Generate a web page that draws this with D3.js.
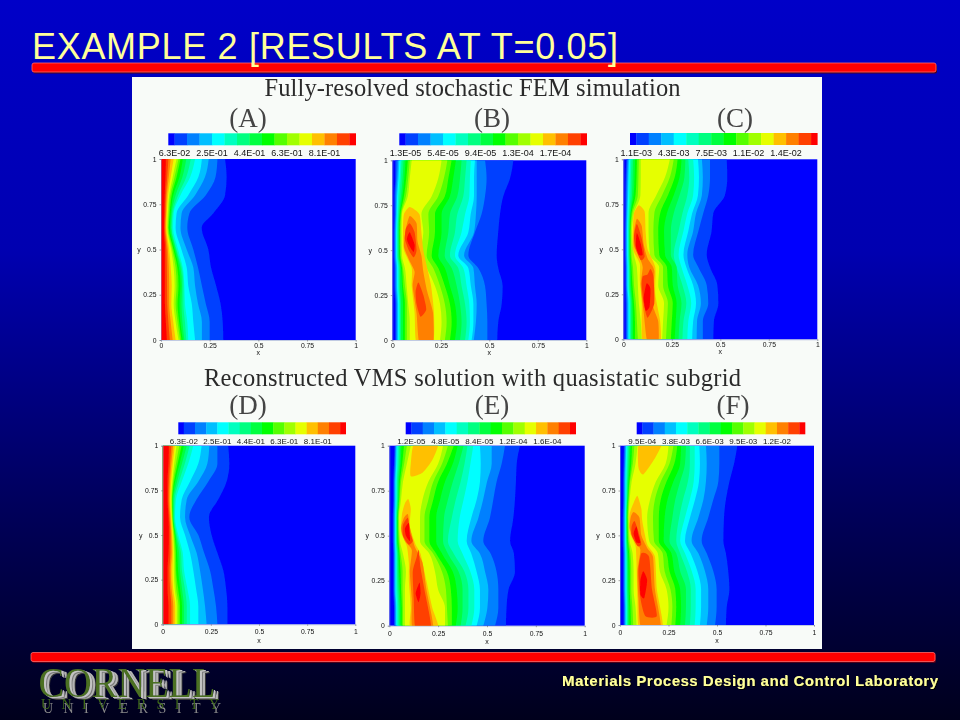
<!DOCTYPE html>
<html><head><meta charset="utf-8">
<script src="https://cdn.jsdelivr.net/npm/d3@7/dist/d3.min.js"></script>
<style>html,body{margin:0;padding:0;background:#00001e}svg{display:block}</style></head>
<body><svg id="c" width="960" height="720"></svg>
<script>
// ---------- values (x positions in hundredths of the x range) ----------
const titleText = "EXAMPLE 2 [RESULTS AT T=0.05]";
const headingTop = "Fully-resolved stochastic FEM simulation";
const headingBottom = "Reconstructed VMS solution with quasistatic subgrid";
const footerText = "Materials Process Design and Control Laboratory";
const axisTicks = [0, 0.25, 0.5, 0.75, 1];
const levelColors = ["#0000ff","#0040ff","#0080ff","#00bfff","#00ffff","#00ffbf","#00ff80","#00ff40","#00ff00","#55ff00","#a0ff00","#e6ff00","#ffc000","#ff8000","#ff4000","#ff0000"];
const barIndexTicks = [0.5, 3.5, 6.5, 9.5, 12.5];
const barA = ["6.3E-02","2.5E-01","4.4E-01","6.3E-01","8.1E-01"];
const barB = ["1.3E-05","5.4E-05","9.4E-05","1.3E-04","1.7E-04"];
const barC = ["1.1E-03","4.3E-03","7.5E-03","1.1E-02","1.4E-02"];
const barD = ["6.3E-02","2.5E-01","4.4E-01","6.3E-01","8.1E-01"];
const barE = ["1.2E-05","4.8E-05","8.4E-05","1.2E-04","1.6E-04"];
const barF = ["9.5E-04","3.8E-03","6.6E-03","9.5E-03","1.2E-02"];

const rowsA = [0,.1,.2,.3,.4,.5,.62,.7,.8,.9,1];
const rightA = [
[32,31.7,30.6,28.3,25.7,24.3,20.9,26.9,32.9,33.7,32.9],
[25,25,23,21,19,16.6,13.5,14.6,23,28,29],
[21,21,19,17.5,16.6,13.2,10,10.6,17.5,22.6,24.5],
[17.5,16.6,15.8,14,13.2,10.5,7.5,8,14,19.2,21],
[14,13.5,12.3,12,11.2,8.8,6.2,6.5,10,15,17.5],
[13,12.3,11.5,11.5,10.6,8,5.5,6,8.8,13,15.3],
[12,11,10.5,10.8,10,7.6,5.2,5.5,7.5,11,13],
[11.2,10,9.5,10,9.2,7,4.6,5,6.3,9.5,11.2],
[10.5,9.3,8.5,9,8.4,6.4,4,4.5,5.5,8,10],
[9.8,8.5,7.5,8,7.5,5.8,3.6,4,4.8,7,9],
[9,7.5,6.5,7,6.5,5.2,3.2,3.5,4.2,6,8],
[7.5,6.3,5.3,5.5,5,4.2,2.8,3,3.6,5,6.5],
[6,5,4.2,4.2,4,3.5,2.4,2.6,3,4,5],
[4.5,3.8,3.2,3.1,3,2.8,2,2.2,2.5,3.2,3.8],
[3,2.5,2,2,2,2,1.5,1.7,1.9,2.3,2.5]];

const rowsD = [0,.1,.2,.3,.4,.5,.6,.7,.8,.9,1];
const rightD = [
[33.6,33.6,32.9,31.5,28.4,25.4,24,28.9,33.2,34.6,34],
[28.4,27.7,26.3,24.6,21.5,18.5,13.8,17.6,23.7,28.4,28.4],
[22.8,22,20.8,19.4,17.6,14.2,11.6,12.5,18.5,23.2,24.2],
[18.5,18.5,17.3,15.9,14.2,11.6,9,9.9,14.2,18.5,20.2],
[14.2,14.2,12.8,11.1,10.4,8.1,6.4,6.9,9.9,13.3,15.9],
[12.5,12.5,11.5,10,9.5,7.4,6,6.2,8.5,11.5,14],
[11,11,10,9,8.5,6.9,5.6,5.6,7.5,10,12.5],
[10,10,9,8,7.5,6.5,5.3,5.2,6.5,8.8,11],
[9,9,8,7,6.9,6.2,5.1,5,5.9,7.8,9.8],
[8.2,8.2,7,6.5,6.3,5.8,5,4.8,5.4,6.9,8.6],
[7.3,7.3,6.2,5.8,5.8,5.4,4.7,4.4,5,6,7.2],
[6.5,6.5,5.4,5,5.3,5,4.4,4,4.4,5.2,6.3],
[5.5,5.5,4.6,4.2,4.7,4.5,4,3.5,3.8,4.5,5.4],
[4.5,4.5,3.8,3.5,4,4,3.5,3,3.2,3.8,4.5],
[3,3,2.5,2.5,3,3.2,3,2.5,2.5,3,3.2]];

const rowsB = [0,.1,.2,.3,.4,.47,.6,.7,.8,.9,1];
const rightB = [
[54.1,54.6,56.4,56.9,54.6,53.8,54.6,55.5,57.2,60.7,62.4],
[49,49,48.6,47.8,44.3,39.2,42.6,46,47.8,48.6,47.8],
[42,43.1,43.5,42.6,41.8,37,42.1,43.1,43.5,43.5,43.5],
[40.9,41.8,41.8,40.5,39.2,34,39.2,40.4,42.1,42.1,42.6],
[39.2,40,39.7,38.3,36.6,32.3,35.7,37.5,39.7,40,40.5],
[37.5,38.3,37.5,35.7,34,29.7,32.3,33.5,36.6,37.5,38.3],
[34.9,35.7,34.9,33.2,30.6,27,28.9,29.7,33.5,34.9,35.7],
[32.3,33.2,32.3,29.7,27.1,23.7,25.4,25.4,29.7,31.4,32.8],
[29.7,30.6,29.7,27.1,23.7,20.3,22,22,27.1,28.9,30.6],
[27.1,28,27.1,24.6,21.1,17.7,19,18.6,23.7,26.6,28.4],
[24.6,25.4,24.6,22,17.7,14.3,16,15,20.3,23.7,25.4]];
const leftB = [
[1.5,1.5,1.5,1,1,.8,.8,1,1,1.5,1.5],
[2,2,2,1.5,1.5,1.2,1.2,1.5,1.5,2,2.2],
[2.5,2.5,2.5,2,2,1.6,1.6,1.9,2,2.6,3],
[3,3,3,2.5,2.5,2,2,2.3,2.5,3.2,3.6],
[3.5,3.5,3.5,3,3,2.4,2.4,2.7,3,3.8,4.2],
[4,4,4,3.5,3.5,2.8,2.8,3.1,3.7,4.4,4.8],
[4.5,4.5,4.5,4,4,3.2,3.2,3.5,4.5,5.3,5.8],
[5.5,5.5,5.5,5,4.5,3.6,3.5,3.9,5.2,6.2,6.8],
[6.5,6.5,6.5,5.5,5,4,3.8,4.2,6,7.2,8],
[7.5,7.5,7.5,6.5,5.5,4.4,4.2,4.6,7,8.2,9],
[9,9,8.2,7.4,6.5,5,4.8,5,8,9,10]];
const hotB = [
{level:12,pts:[[.09,.74],[.14,.70],[.15,.60],[.16,.5],[.18,.4],[.20,.3],[.215,.15],[.21,-.02],[.125,-.02],[.115,.15],[.10,.3],[.10,.4],[.06,.5],[.055,.62],[.06,.7]]},
{level:13,pts:[[.09,.69],[.125,.65],[.13,.55],[.15,.47],[.16,.38],[.18,.27],[.21,.15],[.21,-.02],[.14,-.02],[.125,.15],[.105,.3],[.115,.38],[.085,.45],[.06,.52],[.07,.62]]},
{level:14,pts:[[.09,.65],[.115,.6],[.125,.5],[.11,.46],[.085,.5],[.065,.56],[.07,.62]]},
{level:14,pts:[[.135,.32],[.16,.25],[.175,.17],[.145,.13],[.125,.2],[.12,.27]]},
{level:15,pts:[[.09,.6],[.115,.53],[.11,.49],[.09,.52],[.075,.56]]}];

const rowsC = [0,.1,.2,.3,.4,.47,.6,.7,.8,.9,1];
const rightC = [
[46.4,46.7,49,48.5,44.7,43,45.5,46.4,52.4,53.6,53.3],
[41,41,43.8,43,38.7,36,38.7,41.2,43.8,44.7,44.7],
[37.8,38,40,38.5,34,33,36,37.5,40.5,41,40.5],
[35.5,36,37.5,36,32.5,31,33.5,35.5,38.5,39,38.5],
[33,33.5,35,33,30,28.5,31,33,36,36.5,36],
[30.5,31,32.5,30.5,27.5,26,28.5,30.5,33,34,33.5],
[28.5,29,30,28,27.5,24.5,24.5,26,29,31.5,32],
[26.5,27,27.5,25.5,25,21.5,21,22.5,26,29,30],
[24.5,25,25.5,23,22.5,18.5,18,19,23,26.5,28],
[22,22.5,23,20.5,20.5,16,15.5,16,20,24,26],
[20,20.5,21,18,18.5,13.7,13,13,17,21.5,24]];
const leftC = [
[1.2,1.2,1.2,1,1,.9,.9,1,1,1.2,1.5],
[1.7,1.7,1.7,1.4,1.4,1.2,1.2,1.4,1.5,1.7,2],
[2.2,2.2,2.2,1.8,1.8,1.6,1.6,1.8,2,2.2,2.5],
[2.7,2.7,2.7,2.2,2.2,2,2,2.2,2.5,2.7,3],
[3.2,3.2,3.2,2.6,2.6,2.4,2.4,2.6,3,3.2,3.5],
[3.7,3.7,3.7,3,3,2.8,2.8,3,3.7,3.9,4.2],
[4.2,4.2,4.2,3.5,3.4,3.1,3.1,3.5,4.5,4.8,5],
[5,5,4.8,4,3.8,3.4,3.4,3.8,5.3,5.8,6],
[6,6,5.5,4.7,4.2,3.7,3.6,4.2,6.3,6.8,7],
[7.5,7,6.5,5.5,5,4.2,3.9,4.7,7.5,7.8,8],
[9.5,9,8,7.5,7,5.5,4.5,5.5,8.8,9,9]];
const hotC = [
{level:12,pts:[[.08,.745],[.11,.71],[.115,.6],[.125,.5],[.165,.40],[.165,.25],[.19,.1],[.19,-.02],[.10,-.02],[.095,.2],[.085,.33],[.085,.42],[.05,.5],[.05,.62],[.055,.7]]},
{level:13,pts:[[.07,.67],[.095,.63],[.105,.53],[.125,.45],[.16,.38],[.15,.2],[.18,.1],[.18,-.02],[.125,-.02],[.105,.15],[.09,.3],[.1,.4],[.085,.45],[.055,.52],[.055,.6]]},
{level:14,pts:[[.07,.64],[.095,.56],[.11,.46],[.09,.44],[.065,.5],[.055,.57]]},
{level:14,pts:[[.14,.39],[.155,.35],[.16,.2],[.125,.12],[.105,.2],[.095,.3],[.1,.35],[.125,.36]]},
{level:15,pts:[[.07,.59],[.09,.53],[.1,.47],[.08,.47],[.065,.52]]},
{level:15,pts:[[.12,.31],[.14,.28],[.135,.18],[.115,.16],[.105,.23]]}];

const rowsE = [0,.1,.2,.3,.4,.47,.6,.7,.8,.9,1];
const rightE = [
[59.7,60,61,64.3,63.8,61.8,63.5,64.3,64.8,65.2,66.9],
[54.1,55.8,55.8,54.9,51.9,48.1,51.5,53.2,54.9,57.5,59.2],
[48.1,50.2,50.7,49,46.4,42,45.6,48,50,52.4,52.4],
[44.7,46.4,46.4,44.7,42,39.6,42,44.7,46.4,46.8,46.4],
[42,43.5,43.5,41.5,37.5,35,36,38,40,41.5,43],
[39,40.5,40.5,38.5,33,30,32,34,36.5,38.5,40],
[36.5,37.5,37.5,35.5,30,27.5,28,30,32.5,35.5,38],
[34,35,34.5,32.5,27,24,24,26,28.5,32.5,35],
[32,32,31.5,29.5,24,20.5,20.5,22.5,25,29.5,33],
[30,29.5,29,27,22.5,18,18,20,22.5,27,30],
[28.5,28.5,25,23.4,20.5,15.7,15.7,17,20,25,27.5]];
const leftE = [
[2.4,2.4,2,2,2,1.8,1.8,2,2,2.4,2.6],
[2.8,2.8,2.4,2.4,2.4,2.2,2.2,2.4,2.4,2.8,3],
[3.2,3.2,2.8,2.8,2.8,2.6,2.6,2.8,2.8,3.2,3.4],
[3.6,3.6,3.2,3.2,3.2,3,3,3.2,3.2,3.6,3.8],
[4,4,3.6,3.6,3.6,3.3,3.3,3.6,3.6,4,4.2],
[4.6,4.6,4.2,4,4,3.6,3.6,4,4,4.6,4.8],
[5.2,5.2,4.8,4.5,4.4,3.9,3.9,4.4,4.5,5.2,5.4],
[5.8,5.8,5.4,5,4.8,4.2,4.2,4.8,5,5.8,6.2],
[6.4,6.4,6,5.8,5.2,4.6,4.4,5,5.4,6.6,7.5],
[7,7,6.8,6.8,5.8,5,4.7,5.4,6,7.6,9],
[8,8,8,8.5,7,5.5,5,6,7,9,11]];
const hotE = [
{level:12,pts:[[.13,1.02],[.25,1.02],[.22,.92],[.17,.85],[.11,.83],[.11,.9]]},
{level:12,pts:[[.097,.704],[.11,.65],[.105,.55],[.135,.45],[.16,.4],[.19,.25],[.22,.1],[.25,-.02],[.11,-.02],[.11,.1],[.10,.25],[.10,.35],[.09,.44],[.06,.52],[.065,.62],[.08,.68]]},
{level:13,pts:[[.095,.62],[.105,.55],[.13,.44],[.17,.35],[.19,.2],[.225,-.02],[.12,-.02],[.115,.15],[.105,.3],[.115,.42],[.08,.47],[.06,.54],[.075,.6]]},
{level:14,pts:[[.095,.60],[.105,.52],[.12,.47],[.10,.45],[.07,.5],[.07,.56]]},
{level:14,pts:[[.15,.42],[.16,.32],[.18,.2],[.215,-.02],[.135,-.02],[.125,.15],[.12,.3],[.14,.38]]},
{level:15,pts:[[.1,.57],[.105,.5],[.105,.47],[.085,.5],[.08,.54]]},
{level:15,pts:[[.155,.24],[.16,.18],[.15,.13],[.135,.18]]}];

const rowsF = [0,.1,.2,.3,.4,.47,.6,.7,.8,.9,1];
const rightF = [
[54.6,55,56.4,55.8,54.6,53.3,53.6,54.6,56.4,58.8,60.5],
[49,49.8,49.8,48.1,44.7,42.1,45.5,48.1,50.7,51.2,51.2],
[44.7,45.5,45.5,43.8,40.4,36.9,40.4,43,44.3,44.7,44.3],
[41.2,41.8,41.8,39.9,36.4,33.5,36.1,38.7,40.7,41.2,40.9],
[38.5,39,39,37,33.5,31,33.5,36,38,38.5,38.5],
[36,36.5,36.5,34.5,31,29,30.5,32.5,35,36,36],
[33.5,34,34,31,29,25.5,27,28.5,31,33.5,34],
[31,31.5,31,28,26.5,22.5,23,24.5,27.5,31,31.5],
[28.5,29,28.5,25.5,24,20,20,21,24,28,29.5],
[26.5,27,26,23,22,17.5,17,18,21,25.5,27.5],
[24,25,24,20.5,19.5,15,14,15.5,18.5,23.5,25]];
const leftF = [
[1.8,1.8,1.6,1.6,1.6,1.4,1.4,1.6,1.6,1.8,2],
[2.2,2.2,2,2,2,1.8,1.8,2,2,2.2,2.4],
[2.6,2.6,2.4,2.4,2.4,2.2,2.2,2.4,2.4,2.6,2.8],
[3,3,2.8,2.8,2.8,2.6,2.6,2.8,2.8,3,3.2],
[3.4,3.4,3.2,3.2,3.2,2.9,2.9,3.2,3.2,3.4,3.6],
[3.8,3.8,3.6,3.6,3.5,3.2,3.2,3.5,3.6,3.9,4.2],
[4.2,4.2,4,4,3.8,3.5,3.4,3.7,4,4.4,4.8],
[4.8,4.8,4.5,4.4,4.2,3.8,3.6,4,4.4,5,5.4],
[5.6,5.4,5,5,4.7,4.1,3.8,4.2,4.8,5.8,6.2],
[6.8,6.4,5.8,5.8,5.4,4.5,4.1,4.6,5.2,6.6,7.4],
[8.5,8,7,7,6.5,5,4.5,5,6,8,9]];
const hotF = [
{level:12,pts:[[.10,1.02],[.215,1.02],[.18,.93],[.12,.84],[.095,.88]]},
{level:12,pts:[[.09,.72],[.11,.65],[.115,.58],[.14,.45],[.18,.38],[.19,.2],[.22,-.02],[.10,-.02],[.09,.15],[.085,.35],[.08,.44],[.05,.52],[.05,.62],[.07,.68]]},
{level:13,pts:[[.07,.63],[.1,.6],[.11,.5],[.14,.43],[.17,.38],[.18,.2],[.21,-.02],[.11,-.02],[.095,.15],[.09,.3],[.105,.42],[.075,.47],[.05,.54],[.055,.6]]},
{level:14,pts:[[.075,.58],[.095,.52],[.11,.45],[.09,.44],[.06,.5],[.06,.55]]},
{level:14,pts:[[.11,.4],[.15,.38],[.165,.2],[.19,.05],[.13,.05],[.105,.15],[.095,.3]]},
{level:15,pts:[[.085,.55],[.095,.5],[.105,.46],[.085,.46],[.07,.51]]},
{level:15,pts:[[.12,.3],[.14,.25],[.125,.15],[.105,.17],[.105,.25]]}];

// ---------- layout ----------
const panels = [
 {tag:"(A)",rows:rowsA,right:rightA,left:null,hot:[],bar:barA,box:[161,159,355.7,340],barBox:[168.3,133.3,355.7,145.3],barY:156,tagX:248,tagY:127,fs:9,tickDy:0,labelY:15},
 {tag:"(B)",rows:rowsB,right:rightB,left:leftB,hot:hotB,bar:barB,box:[392.3,160.3,586.3,340],barBox:[399.3,133.3,586.7,145.3],barY:156,tagX:492,tagY:127,fs:9,tickDy:0,labelY:15},
 {tag:"(C)",rows:rowsC,right:rightC,left:leftC,hot:hotC,bar:barC,box:[623.3,159.3,817.3,339.3],barBox:[630,133,817.3,145],barY:156,tagX:735,tagY:127,fs:9,tickDy:0,labelY:15},
 {tag:"(D)",rows:rowsD,right:rightD,left:null,hot:[],bar:barD,box:[162.7,445.7,355.3,624.3],barBox:[178.3,422.3,345.7,434.3],barY:444,tagX:248,tagY:414,fs:8,tickDy:2,labelY:19},
 {tag:"(E)",rows:rowsE,right:rightE,left:leftE,hot:hotE,bar:barE,box:[389.3,445.7,584.7,625.7],barBox:[405.7,422.3,575.7,434.3],barY:444,tagX:492,tagY:414,fs:8,tickDy:2,labelY:18},
 {tag:"(F)",rows:rowsF,right:rightF,left:leftF,hot:hotF,bar:barF,box:[620,445.7,814,625],barBox:[636.7,422.3,805,434.3],barY:444,tagX:733,tagY:414,fs:8,tickDy:2,labelY:18}
];

const svg = d3.select("#c");
const defs = svg.append("defs");
const bg = defs.append("linearGradient").attr("id","bg").attr("x1",0).attr("y1",0).attr("x2",0).attr("y2",1);
[[0,"#0000c8"],[0.35,"#0000b0"],[0.7,"#00005c"],[1,"#00001c"]].forEach(s=>bg.append("stop").attr("offset",s[0]).attr("stop-color",s[1]));
const soft = defs.append("filter").attr("id","soft").attr("x","-2%").attr("y","-2%").attr("width","104%").attr("height","104%");
soft.append("feGaussianBlur").attr("stdDeviation",0.7);

// stacked-shadow filter for the logo: a single text drawn with offset coloured copies behind it
function stackFilter(id,layers){
  const f = defs.append("filter").attr("id",id).attr("x","-5%").attr("y","-20%").attr("width","115%").attr("height","150%");
  layers.forEach((l,i)=>{
    f.append("feFlood").attr("flood-color",l[2]).attr("result","c"+i);
    f.append("feOffset").attr("in","SourceAlpha").attr("dx",l[0]).attr("dy",l[1]).attr("result","o"+i);
    f.append("feComposite").attr("in","c"+i).attr("in2","o"+i).attr("operator","in").attr("result","s"+i);
  });
  const m = f.append("feMerge");
  layers.forEach((l,i)=>m.append("feMergeNode").attr("in","s"+i));
  m.append("feMergeNode").attr("in","SourceGraphic");
}
stackFilter("logoStack",[[6,3,"#3a3a3a"],[4.5,2.2,"#b4b4b4"],[3,1.5,"#7c7c7c"],[1.5,.7,"#c4c4c4"]]);
stackFilter("subStack",[[1.5,3.5,"#8a8a8a"]]);
stackFilter("footStack",[[1,1.2,"#000000"]]);

svg.append("rect").attr("width",960).attr("height",720).attr("fill","url(#bg)");

function redBar(x,y,w,h){
  svg.append("rect").attr("x",x+1).attr("y",y+1.5).attr("width",w).attr("height",h).attr("rx",2).attr("fill","#500018");
  svg.append("rect").attr("x",x).attr("y",y).attr("width",w).attr("height",h).attr("rx",2).attr("fill","#ff0000").attr("stroke","#ff6a6a").attr("stroke-width",0.8);
}
redBar(32,63,904,9);
redBar(31,652.5,904,9);

svg.append("text").attr("x",32).attr("y",58.5).attr("font-family","Liberation Sans").attr("font-size",36).attr("fill","#ffff99").attr("textLength",586).attr("lengthAdjust","spacing").text(titleText);

// figure
const fig = svg.append("g").attr("filter","url(#soft)");
fig.append("rect").attr("x",132).attr("y",77).attr("width",690).attr("height",572).attr("fill","#f8fbf8");
const cmFont = "Liberation Serif";
fig.append("text").attr("x",472.5).attr("y",96).attr("text-anchor","middle").attr("font-family",cmFont).attr("font-size",24.5).attr("fill","#2c2c2c").attr("textLength",416).attr("lengthAdjust","spacing").text(headingTop);
fig.append("text").attr("x",472.5).attr("y",386).attr("text-anchor","middle").attr("font-family",cmFont).attr("font-size",24.5).attr("fill","#2c2c2c").attr("textLength",537).attr("lengthAdjust","spacing").text(headingBottom);

panels.forEach((p,pi)=>{
  const g = fig.append("g");
  g.append("text").attr("x",p.tagX).attr("y",p.tagY).attr("text-anchor","middle").attr("font-family",cmFont).attr("font-size",27).attr("fill","#444").text(p.tag);
  // colour bar
  const [bx0,by0,bx1,by1] = p.barBox;
  const bs = d3.scaleLinear().domain([0,levelColors.length-1]).range([bx0,bx1]);
  g.selectAll(null).data(levelColors).join("rect")
    .attr("x",(d,i)=>bs(Math.max(0,i-.5))).attr("y",by0)
    .attr("width",(d,i)=>bs(Math.min(levelColors.length-1,i+.5))-bs(Math.max(0,i-.5))+.3)
    .attr("height",by1-by0).attr("fill",d=>d);
  g.selectAll(null).data(p.bar).join("text")
    .attr("x",(d,i)=>bs(barIndexTicks[i])).attr("y",p.barY).attr("text-anchor","middle")
    .attr("font-family","Liberation Sans").attr("font-size",p.fs).attr("fill","#111").text(d=>d);
  // plot
  const [x0,y0,x1,y1] = p.box;
  const x = d3.scaleLinear().domain([0,1]).range([x0,x1]);
  const y = d3.scaleLinear().domain([0,1]).range([y1,y0]);
  g.append("rect").attr("x",x0).attr("y",y0).attr("width",x1-x0).attr("height",y1-y0).attr("fill",levelColors[0]);
  const clipId = "clip"+pi;
  defs.append("clipPath").attr("id",clipId).append("rect").attr("x",x0).attr("y",y0).attr("width",x1-x0).attr("height",y1-y0);
  const plot = g.append("g").attr("clip-path",`url(#${clipId})`);
  const area = d3.area().y(d=>y(d.y)).x0(d=>x(d.l/100)).x1(d=>x(d.r/100)).curve(d3.curveMonotoneY);
  p.right.forEach((edge,k)=>{
    const pts = p.rows.map((yy,i)=>({y:yy,r:edge[i],l:p.left?p.left[k][i]:0}));
    plot.append("path").attr("d",area(pts)).attr("fill",levelColors[k+1]);
  });
  const line = d3.line().x(d=>x(d[0])).y(d=>y(d[1])).curve(d3.curveCardinalClosed.tension(.4));
  p.hot.forEach(h=>plot.append("path").attr("d",line(h.pts)).attr("fill",levelColors[h.level]));
  // axes
  const fmt = d=>String(d);
  const ax = g.append("g").attr("transform",`translate(0,${y1})`).call(d3.axisBottom(x).tickValues(axisTicks).tickFormat(fmt).tickSize(1.5));
  const ay = g.append("g").attr("transform",`translate(${x0},0)`).call(d3.axisLeft(y).tickValues(axisTicks).tickFormat(fmt).tickSize(1.5));
  [ax,ay].forEach(a=>{a.select(".domain").attr("stroke","#8899cc").attr("stroke-width",.5);
    a.selectAll("line").attr("stroke","#555").attr("stroke-width",.5);
    a.selectAll("text").attr("font-family","Liberation Sans").attr("font-size",6.8).attr("fill","#111");});
  ax.selectAll("text").attr("dy",`${0.5+p.tickDy/6.8}em`);
  g.append("text").attr("x",x(.5)).attr("y",y1+p.labelY).attr("text-anchor","middle").attr("font-family","Liberation Sans").attr("font-size",7).attr("fill","#111").text("x");
  g.append("text").attr("x",x0-22).attr("y",y(.5)+2.5).attr("text-anchor","middle").attr("font-family","Liberation Sans").attr("font-size",7).attr("fill","#111").text("y");
});

// logo
svg.append("text").attr("x",38.5).attr("y",697).attr("font-family","Liberation Serif").attr("font-size",42).attr("fill","#4c7020")
  .attr("textLength",177).attr("lengthAdjust","spacingAndGlyphs").attr("filter","url(#logoStack)").text("CORNELL");
svg.append("text").attr("x",41).attr("y",708.5).attr("font-family","Liberation Serif").attr("font-size",14).attr("fill","#3f6a18")
  .attr("textLength",178).attr("lengthAdjust","spacing").attr("filter","url(#subStack)").text("UNIVERSITY");

// footer
svg.append("text").attr("x",938).attr("y",686).attr("text-anchor","end").attr("font-family","Liberation Sans").attr("font-weight","bold").attr("font-size",15).attr("fill","#ffff99").attr("textLength",376).attr("lengthAdjust","spacing").attr("filter","url(#footStack)").text(footerText);
</script></body></html>
